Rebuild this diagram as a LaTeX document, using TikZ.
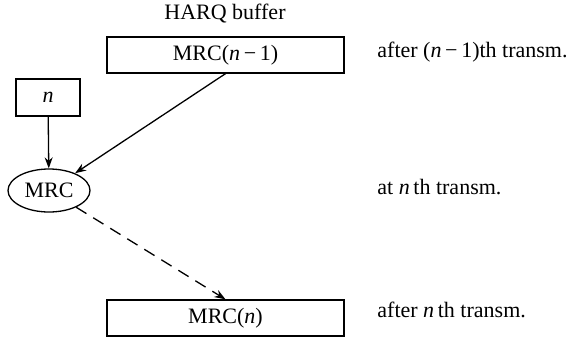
\documentclass[tikz,border=0pt]{standalone}
\usepackage{fontspec}
\setmainfont{Liberation Serif}
\usepackage{tikz}
\usetikzlibrary{arrows.meta,shapes.geometric}
\tikzset{
  buf/.style={draw,line width=0.65pt,inner sep=0pt,minimum width=118.5pt,minimum height=18pt},
  idx/.style={draw,line width=0.65pt,inner sep=0pt,minimum width=32pt,minimum height=18.5pt},
  comb/.style={draw,ellipse,line width=0.65pt,inner sep=0pt,minimum width=41pt,minimum height=21.5pt},
  arr/.style={line width=0.65pt,-{Stealth[length=5.5pt,width=4pt]}},
  note/.style={anchor=west,inner sep=0pt}
}
\newcommand{\mminus}{\,−\,}

\begin{document}
\begin{tikzpicture}[x=0.5pt,y=-0.5pt,font=\fontsize{11}{13}\selectfont]
\useasboundingbox (0,0) rectangle (571,337);
\node[inner sep=0pt] (title) at (225,14) {HARQ buffer};
\node[buf] (prev) at (225.5,55) {MRC(\textit{n}\mminus1)};
\node[idx] (num) at (48,97.5) {\textit{n}};
\node[comb] (mrc) at (49,190.5) {MRC};
\node[buf] (cur) at (225.5,318) {MRC(\textit{n})};
\node[note] (t1) at (377,52) {after (\textit{n}\mminus1)th transm.};
\node[note] (t2) at (377,187) {at \textit{n}\,th transm.};
\node[note] (t3) at (377,310) {after \textit{n}\,th transm.};
\draw[arr] (num) -- (mrc);
\draw[arr] (prev.south) -- (mrc);
\draw[arr,dashed,dash pattern=on 6pt off 4pt] (mrc) -- (cur.north);
\end{tikzpicture}
\end{document}
